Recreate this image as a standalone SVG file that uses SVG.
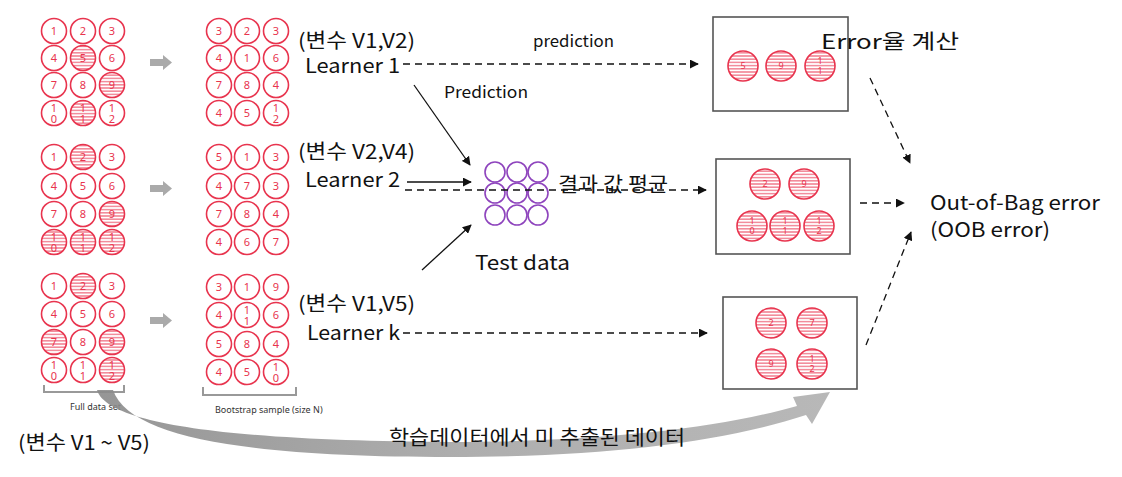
<svg xmlns="http://www.w3.org/2000/svg" width="1122" height="477" viewBox="0 0 1122 477">
<defs>
<pattern id="hatch" patternUnits="userSpaceOnUse" width="6" height="3.2">
<rect width="6" height="3.2" fill="#fff"/>
<line x1="0" y1="1.6" x2="6" y2="1.6" stroke="#e8344e" stroke-width="0.9"/>
</pattern>
<marker id="ah" viewBox="0 0 10 10" refX="9" refY="5" markerWidth="9" markerHeight="9" markerUnits="userSpaceOnUse" orient="auto">
<path d="M0,0 L10,5 L0,10 z" fill="#111"/>
</marker>
<linearGradient id="gg" x1="0" y1="0" x2="1" y2="0">
<stop offset="0" stop-color="#8a8a8a"/>
<stop offset="0.5" stop-color="#a5a5a5"/>
<stop offset="1" stop-color="#b0b0b0"/>
</linearGradient>
</defs>
<style>
.c{fill:#fff;stroke:#e8344e;stroke-width:1.6}
.h{fill:url(#hatch);stroke:#e8344e;stroke-width:1.6}
.n{font-family:"Noto Sans","DejaVu Sans",sans-serif;font-size:11px;fill:#e8344e;text-anchor:middle}
.s{font-family:"Noto Sans","DejaVu Sans",sans-serif;font-size:9px;fill:#e8344e;text-anchor:middle}
.t{font-family:"Noto Sans CJK KR","Noto Sans",sans-serif;font-size:20px;fill:#111}
.m{font-family:"Noto Sans CJK KR","Noto Sans",sans-serif;font-size:16px;fill:#111}
.sm{font-family:"Noto Sans","Liberation Sans",sans-serif;font-size:9px;fill:#333}
.box{fill:#fff;stroke:#555;stroke-width:1.6}
.fa{fill:#aaa}
.p{fill:#fff;stroke:#8e44bd;stroke-width:1.6}
.d{fill:none;stroke:#111;stroke-width:1.3;stroke-dasharray:7 5}
.l{fill:none;stroke:#111;stroke-width:1.3}
.br{fill:none;stroke:#999;stroke-width:2}
</style>

<!-- Full dataset block 1 -->
<g id="full-1">
<circle class="c" cx="54" cy="31" r="12.5"/><text class="n" x="54" y="35">1</text>
<circle class="c" cx="83" cy="31" r="12.5"/><text class="n" x="83" y="35">2</text>
<circle class="c" cx="112" cy="31" r="12.5"/><text class="n" x="112" y="35">3</text>
<circle class="c" cx="54" cy="58" r="12.5"/><text class="n" x="54" y="62">4</text>
<circle class="h" cx="83" cy="58" r="12.5"/><text class="n" x="83" y="62">5</text>
<circle class="c" cx="112" cy="58" r="12.5"/><text class="n" x="112" y="62">6</text>
<circle class="c" cx="54" cy="85" r="12.5"/><text class="n" x="54" y="89">7</text>
<circle class="c" cx="83" cy="85" r="12.5"/><text class="n" x="83" y="89">8</text>
<circle class="h" cx="112" cy="85" r="12.5"/><text class="n" x="112" y="89">9</text>
<circle class="c" cx="54" cy="113" r="12.5"/><text class="n" x="54" y="112">1<tspan x="54" dy="11">0</tspan></text>
<circle class="h" cx="83" cy="113" r="12.5"/><text class="n" x="83" y="112">1<tspan x="83" dy="11">1</tspan></text>
<circle class="c" cx="112" cy="113" r="12.5"/><text class="n" x="112" y="112">1<tspan x="112" dy="11">2</tspan></text>
</g>

<!-- Full dataset block 2 -->
<g id="full-2">
<circle class="c" cx="54" cy="157" r="12.5"/><text class="n" x="54" y="161">1</text>
<circle class="h" cx="83" cy="157" r="12.5"/><text class="n" x="83" y="161">2</text>
<circle class="c" cx="112" cy="157" r="12.5"/><text class="n" x="112" y="161">3</text>
<circle class="c" cx="54" cy="186" r="12.5"/><text class="n" x="54" y="190">4</text>
<circle class="c" cx="83" cy="186" r="12.5"/><text class="n" x="83" y="190">5</text>
<circle class="c" cx="112" cy="186" r="12.5"/><text class="n" x="112" y="190">6</text>
<circle class="c" cx="54" cy="214" r="12.5"/><text class="n" x="54" y="218">7</text>
<circle class="c" cx="83" cy="214" r="12.5"/><text class="n" x="83" y="218">8</text>
<circle class="h" cx="112" cy="214" r="12.5"/><text class="n" x="112" y="218">9</text>
<circle class="h" cx="54" cy="242" r="12.5"/><text class="n" x="54" y="241">1<tspan x="54" dy="11">0</tspan></text>
<circle class="h" cx="83" cy="242" r="12.5"/><text class="n" x="83" y="241">1<tspan x="83" dy="11">1</tspan></text>
<circle class="h" cx="112" cy="242" r="12.5"/><text class="n" x="112" y="241">1<tspan x="112" dy="11">2</tspan></text>
</g>

<!-- Full dataset block 3 -->
<g id="full-3">
<circle class="c" cx="54" cy="286" r="12.5"/><text class="n" x="54" y="290">1</text>
<circle class="h" cx="83" cy="286" r="12.5"/><text class="n" x="83" y="290">2</text>
<circle class="c" cx="112" cy="286" r="12.5"/><text class="n" x="112" y="290">3</text>
<circle class="c" cx="54" cy="314" r="12.5"/><text class="n" x="54" y="318">4</text>
<circle class="c" cx="83" cy="314" r="12.5"/><text class="n" x="83" y="318">5</text>
<circle class="c" cx="112" cy="314" r="12.5"/><text class="n" x="112" y="318">6</text>
<circle class="h" cx="54" cy="342" r="12.5"/><text class="n" x="54" y="346">7</text>
<circle class="c" cx="83" cy="342" r="12.5"/><text class="n" x="83" y="346">8</text>
<circle class="h" cx="112" cy="342" r="12.5"/><text class="n" x="112" y="346">9</text>
<circle class="c" cx="54" cy="370" r="12.5"/><text class="n" x="54" y="369">1<tspan x="54" dy="11">0</tspan></text>
<circle class="c" cx="83" cy="370" r="12.5"/><text class="n" x="83" y="369">1<tspan x="83" dy="11">1</tspan></text>
<circle class="h" cx="112" cy="370" r="12.5"/><text class="n" x="112" y="369">1<tspan x="112" dy="11">2</tspan></text>
</g>

<!-- Bootstrap block 1 -->
<g id="boot-1">
<circle class="c" cx="219" cy="31" r="12.5"/><text class="n" x="219" y="35">3</text>
<circle class="c" cx="247" cy="31" r="12.5"/><text class="n" x="247" y="35">2</text>
<circle class="c" cx="276" cy="31" r="12.5"/><text class="n" x="276" y="35">3</text>
<circle class="c" cx="219" cy="58" r="12.5"/><text class="n" x="219" y="62">4</text>
<circle class="c" cx="247" cy="58" r="12.5"/><text class="n" x="247" y="62">1</text>
<circle class="c" cx="276" cy="58" r="12.5"/><text class="n" x="276" y="62">6</text>
<circle class="c" cx="219" cy="85" r="12.5"/><text class="n" x="219" y="89">7</text>
<circle class="c" cx="247" cy="85" r="12.5"/><text class="n" x="247" y="89">8</text>
<circle class="c" cx="276" cy="85" r="12.5"/><text class="n" x="276" y="89">4</text>
<circle class="c" cx="219" cy="113" r="12.5"/><text class="n" x="219" y="117">4</text>
<circle class="c" cx="247" cy="113" r="12.5"/><text class="n" x="247" y="117">5</text>
<circle class="c" cx="276" cy="113" r="12.5"/><text class="n" x="276" y="112">1<tspan x="276" dy="11">2</tspan></text>
</g>

<!-- Bootstrap block 2 -->
<g id="boot-2">
<circle class="c" cx="219" cy="157" r="12.5"/><text class="n" x="219" y="161">5</text>
<circle class="c" cx="247" cy="157" r="12.5"/><text class="n" x="247" y="161">1</text>
<circle class="c" cx="276" cy="157" r="12.5"/><text class="n" x="276" y="161">3</text>
<circle class="c" cx="219" cy="186" r="12.5"/><text class="n" x="219" y="190">4</text>
<circle class="c" cx="247" cy="186" r="12.5"/><text class="n" x="247" y="190">7</text>
<circle class="c" cx="276" cy="186" r="12.5"/><text class="n" x="276" y="190">3</text>
<circle class="c" cx="219" cy="214" r="12.5"/><text class="n" x="219" y="218">7</text>
<circle class="c" cx="247" cy="214" r="12.5"/><text class="n" x="247" y="218">8</text>
<circle class="c" cx="276" cy="214" r="12.5"/><text class="n" x="276" y="218">4</text>
<circle class="c" cx="219" cy="242" r="12.5"/><text class="n" x="219" y="246">4</text>
<circle class="c" cx="247" cy="242" r="12.5"/><text class="n" x="247" y="246">6</text>
<circle class="c" cx="276" cy="242" r="12.5"/><text class="n" x="276" y="246">7</text>
</g>

<!-- Bootstrap block 3 -->
<g id="boot-3">
<circle class="c" cx="219" cy="287" r="12.5"/><text class="n" x="219" y="291">3</text>
<circle class="c" cx="247" cy="287" r="12.5"/><text class="n" x="247" y="291">1</text>
<circle class="c" cx="276" cy="287" r="12.5"/><text class="n" x="276" y="291">9</text>
<circle class="c" cx="219" cy="315" r="12.5"/><text class="n" x="219" y="319">4</text>
<circle class="c" cx="247" cy="315" r="12.5"/><text class="n" x="247" y="314">1<tspan x="247" dy="11">1</tspan></text>
<circle class="c" cx="276" cy="315" r="12.5"/><text class="n" x="276" y="319">6</text>
<circle class="c" cx="219" cy="344" r="12.5"/><text class="n" x="219" y="348">5</text>
<circle class="c" cx="247" cy="344" r="12.5"/><text class="n" x="247" y="348">8</text>
<circle class="c" cx="276" cy="344" r="12.5"/><text class="n" x="276" y="348">4</text>
<circle class="c" cx="219" cy="372" r="12.5"/><text class="n" x="219" y="376">4</text>
<circle class="c" cx="247" cy="372" r="12.5"/><text class="n" x="247" y="376">5</text>
<circle class="c" cx="276" cy="372" r="12.5"/><text class="n" x="276" y="371">1<tspan x="276" dy="11">0</tspan></text>
</g>

<!-- Gray block arrows -->
<g id="fat-arrows">
<path class="fa" d="M150,59 h13 v-4 l9,7.5 l-9,7.5 v-4 h-13 z"/>
<path class="fa" d="M150,185 h13 v-4 l9,7.5 l-9,7.5 v-4 h-13 z"/>
<path class="fa" d="M150,317 h13 v-4 l9,7.5 l-9,7.5 v-4 h-13 z"/>
</g>

<!-- Brackets and captions -->
<g id="brackets">
<path class="br" d="M44,385 V392 H124 V385"/>
<path class="br" d="M203,387 V395 H296 V387"/>
<text class="sm" x="70" y="410">Full data set</text>
<text class="sm" x="215" y="413">Bootstrap sample (size N)</text>
</g>

<!-- Big curved arrow -->
<g id="curve-arrow">
<path fill="url(#gg)" opacity="0.9" d="M97,390 C108,428 260,441 450,442 C600,442 720,428 797,406 L793,397 L830,392 L812,424 L806,415 C720,443 600,457 450,457 C260,457 130,440 113,390 Z"/>
</g>

<!-- Learners -->
<g id="learner-1">
<text class="t" x="298" y="48" textLength="117" lengthAdjust="spacingAndGlyphs">(변수 V1,V2)</text>
<text class="t" x="305" y="73" textLength="95" lengthAdjust="spacingAndGlyphs">Learner 1</text>
</g>
<g id="learner-2">
<text class="t" x="298" y="159" textLength="117" lengthAdjust="spacingAndGlyphs">(변수 V2,V4)</text>
<text class="t" x="305" y="187" textLength="95" lengthAdjust="spacingAndGlyphs">Learner 2</text>
</g>
<g id="learner-k">
<text class="t" x="298" y="311" textLength="117" lengthAdjust="spacingAndGlyphs">(변수 V1,V5)</text>
<text class="t" x="307" y="340" textLength="93" lengthAdjust="spacingAndGlyphs">Learner k</text>
</g>

<!-- Test data -->
<g id="test-data">
<circle class="p" cx="495" cy="172" r="10"/>
<circle class="p" cx="517" cy="172" r="10"/>
<circle class="p" cx="538" cy="172" r="10"/>
<circle class="p" cx="495" cy="193" r="10"/>
<circle class="p" cx="517" cy="193" r="10"/>
<circle class="p" cx="538" cy="193" r="10"/>
<circle class="p" cx="495" cy="215" r="10"/>
<circle class="p" cx="517" cy="215" r="10"/>
<circle class="p" cx="538" cy="215" r="10"/>
<text class="t" x="475" y="270" textLength="95" lengthAdjust="spacingAndGlyphs">Test data</text>
</g>

<!-- Result boxes -->
<g id="box-1">
<rect class="box" x="713" y="17" width="135" height="94"/>
<circle class="h" cx="743" cy="66" r="15"/><text class="s" x="743" y="69">5</text>
<circle class="h" cx="781" cy="66" r="15"/><text class="s" x="781" y="69">9</text>
<circle class="h" cx="820" cy="66" r="15"/><text class="s" x="820" y="64">1<tspan x="820" dy="10">1</tspan></text>
</g>
<g id="box-2">
<rect class="box" x="716" y="159" width="134" height="95"/>
<circle class="h" cx="765" cy="184" r="15"/><text class="s" x="765" y="187">2</text>
<circle class="h" cx="804" cy="184" r="15"/><text class="s" x="804" y="187">9</text>
<circle class="h" cx="752" cy="226" r="15"/><text class="s" x="752" y="224">1<tspan x="752" dy="10">0</tspan></text>
<circle class="h" cx="785" cy="226" r="15"/><text class="s" x="785" y="224">1<tspan x="785" dy="10">1</tspan></text>
<circle class="h" cx="819" cy="226" r="15"/><text class="s" x="819" y="224">1<tspan x="819" dy="10">2</tspan></text>
</g>
<g id="box-3">
<rect class="box" x="723" y="297" width="134" height="92"/>
<circle class="h" cx="771" cy="323" r="15"/><text class="s" x="771" y="326">2</text>
<circle class="h" cx="812" cy="323" r="15"/><text class="s" x="812" y="326">7</text>
<circle class="h" cx="771" cy="364" r="15"/><text class="s" x="771" y="367">9</text>
<circle class="h" cx="812" cy="364" r="15"/><text class="s" x="812" y="362">1<tspan x="812" dy="10">2</tspan></text>
</g>

<g id="oob">
<text class="t" x="930" y="210" textLength="170" lengthAdjust="spacingAndGlyphs">Out-of-Bag error</text>
<text class="t" x="930" y="237" textLength="120" lengthAdjust="spacingAndGlyphs">(OOB error)</text>
</g>

<!-- Connectors -->
<g id="connectors">
<path class="d" d="M403,64 H698" marker-end="url(#ah)"/>
<path class="l" d="M414,85 L470,165" marker-end="url(#ah)"/>
<path class="l" d="M407,182 H471" marker-end="url(#ah)"/>
<path class="d" d="M405,190 H706" marker-end="url(#ah)"/>
<path class="l" d="M422,270 L471,225" marker-end="url(#ah)"/>
<path class="d" d="M403,333 H707" marker-end="url(#ah)"/>
<path class="d" d="M870,78 L910,163" marker-end="url(#ah)"/>
<path class="d" d="M860,203 H904" marker-end="url(#ah)"/>
<path class="d" d="M866,345 L911,232" marker-end="url(#ah)"/>
</g>

<!-- Labels -->
<g id="labels">
<text class="m" x="533" y="47" textLength="81" lengthAdjust="spacingAndGlyphs">prediction</text>
<text class="m" x="444" y="98" textLength="84" lengthAdjust="spacingAndGlyphs">Prediction</text>
<text class="t" x="558" y="192" textLength="110" lengthAdjust="spacingAndGlyphs">결과 값 평균</text>
<text class="t" x="821" y="49" textLength="138" lengthAdjust="spacingAndGlyphs">Error율 계산</text>
<text class="t" x="18" y="450" textLength="132" lengthAdjust="spacingAndGlyphs">(변수 V1 ~ V5)</text>
<text class="t" x="389" y="445" textLength="296" lengthAdjust="spacingAndGlyphs">학습데이터에서 미 추출된 데이터</text>
</g>
</svg>
